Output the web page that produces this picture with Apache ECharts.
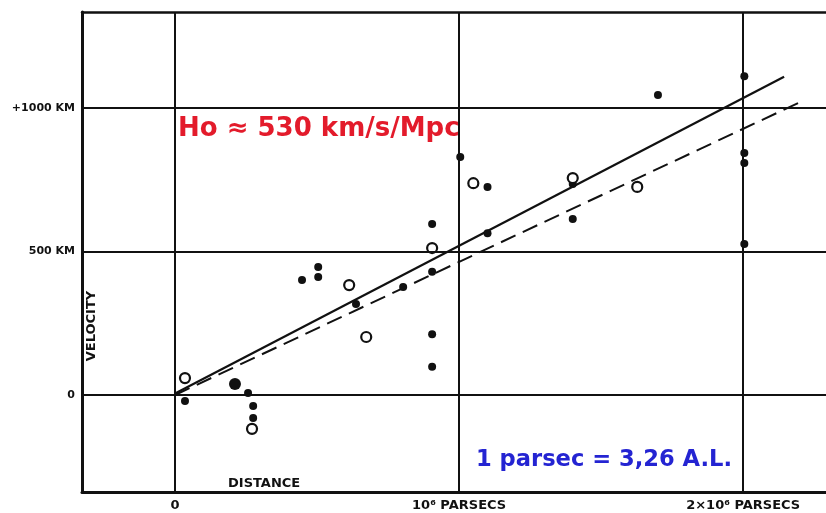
<!DOCTYPE html>
<html>
<head>
<meta charset="utf-8">
<script src="https://cdn.jsdelivr.net/npm/echarts@6/dist/echarts.min.js"></script>
<style>
html,body{margin:0;padding:0;background:#fff;}
#chart{width:826px;height:513px;}
</style>
</head>
<body>
<div id="chart"></div>
<script>
// ---- data ----
const xTickValues = [0, 1, 2];
const xTickLabels = ['0', '10⁶ PARSECS', '2×10⁶ PARSECS'];
const yTickValues = [0, 500, 1000];
const yTickLabels = ['0', '500 KM', '+1000 KM'];

const xRange = [-0.3275, 2.2915];
const yRange = [-338, 1334.5];

// filled dots: [distance (Mpc), velocity (km/s)]
const filledPoints = [
  [0.035, -21],
  [0.257, 7], [0.275, -38], [0.275, -80],
  [0.447, 401], [0.504, 446], [0.504, 411],
  [0.637, 317], [0.803, 376],
  [0.905, 596], [0.905, 429], [0.905, 212], [0.905, 98],
  [1.004, 829], [1.10, 725], [1.10, 564],
  [1.40, 735], [1.40, 613],
  [1.70, 1045],
  [2.004, 1111], [2.004, 843], [2.004, 808], [2.004, 526]
];
const bigFilledPoints = [[0.211, 38]];
const openPoints = [
  [0.035, 59], [0.271, -118], [0.613, 383], [0.673, 202],
  [0.905, 512], [1.05, 738], [1.40, 756], [1.627, 725]
];
const solidFit = [[0, 5], [2.144, 1109]];
const dashedFit = [[0, 0], [2.21, 1025]];

const titleText = 'Ho ≈ 530 km/s/Mpc';
const noteText = '1 parsec = 3,26 A.L.';
const yName = 'VELOCITY';
const xName = 'DISTANCE';

// ---- chart ----
const ink = '#111';
const chart = echarts.init(document.getElementById('chart'), null, {renderer: 'canvas'});

const gridLines = xTickValues.map(v => ({xAxis: v})).concat(yTickValues.map(v => ({yAxis: v})));

chart.setOption({
  backgroundColor: '#fff',
  animation: false,
  grid: {left: 82, top: 12, width: 744, height: 480, containLabel: false},
  xAxis: [{
    type: 'value', min: xRange[0], max: xRange[1],
    axisLine: {show: true, onZero: false, lineStyle: {color: ink, width: 3}},
    axisTick: {show: false},
    splitLine: {show: false},
    axisLabel: {
      customValues: xTickValues,
      margin: 7,
      color: ink, fontFamily: 'DejaVu Sans', fontWeight: 'bold', fontSize: 13,
      formatter: (v) => { const i = xTickValues.indexOf(v); return i >= 0 ? xTickLabels[i] : ''; }
    }
  }, {
    type: 'value', position: 'top', min: xRange[0], max: xRange[1],
    axisLine: {show: true, onZero: false, lineStyle: {color: ink, width: 2.5}},
    axisTick: {show: false}, axisLabel: {show: false}, splitLine: {show: false}
  }],
  yAxis: {
    type: 'value', min: yRange[0], max: yRange[1],
    axisLine: {show: true, onZero: false, lineStyle: {color: ink, width: 3}},
    axisTick: {show: false},
    splitLine: {show: false},
    axisLabel: {
      customValues: yTickValues,
      margin: 7,
      color: ink, fontFamily: 'DejaVu Sans', fontWeight: 'bold', fontSize: 11,
      formatter: (v) => { const i = yTickValues.indexOf(v); return i >= 0 ? yTickLabels[i] : ''; }
    }
  },
  series: [
    {
      type: 'line', data: [], silent: true,
      markLine: {
        silent: true, symbol: 'none', label: {show: false},
        lineStyle: {color: ink, width: 2, type: 'solid'},
        data: gridLines
      }
    },
    {
      type: 'line', data: solidFit, showSymbol: false, silent: true,
      lineStyle: {color: ink, width: 2.2}
    },
    {
      type: 'line', data: dashedFit, showSymbol: false, silent: true,
      lineStyle: {color: ink, width: 2, type: [16, 8]}
    },
    {
      type: 'scatter', data: filledPoints, symbol: 'circle', symbolSize: 8,
      itemStyle: {color: ink, opacity: 1}
    },
    {
      type: 'scatter', data: bigFilledPoints, symbol: 'circle', symbolSize: 12,
      itemStyle: {color: ink, opacity: 1}
    },
    {
      type: 'scatter', data: openPoints, symbol: 'circle', symbolSize: 10,
      itemStyle: {color: '#fff', borderColor: ink, borderWidth: 2.2, opacity: 1}
    }
  ],
  graphic: [
    {
      type: 'text', left: 178, top: 116,
      style: {text: titleText, fill: '#e31b2b', font: 'bold 26px "DejaVu Sans"'}
    },
    {
      type: 'text', left: 476, top: 449,
      style: {text: noteText, fill: '#2424d2', font: 'bold 22.6px "DejaVu Sans"'}
    },
    {
      type: 'text', x: 92, y: 326, rotation: Math.PI / 2,
      style: {text: yName, fill: ink, font: 'bold 13px "DejaVu Sans"', align: 'center', verticalAlign: 'middle'}
    },
    {
      type: 'text', left: 228, top: 477,
      style: {text: xName, fill: ink, font: 'bold 13px "DejaVu Sans"'}
    }
  ]
});
</script>
</body>
</html>
